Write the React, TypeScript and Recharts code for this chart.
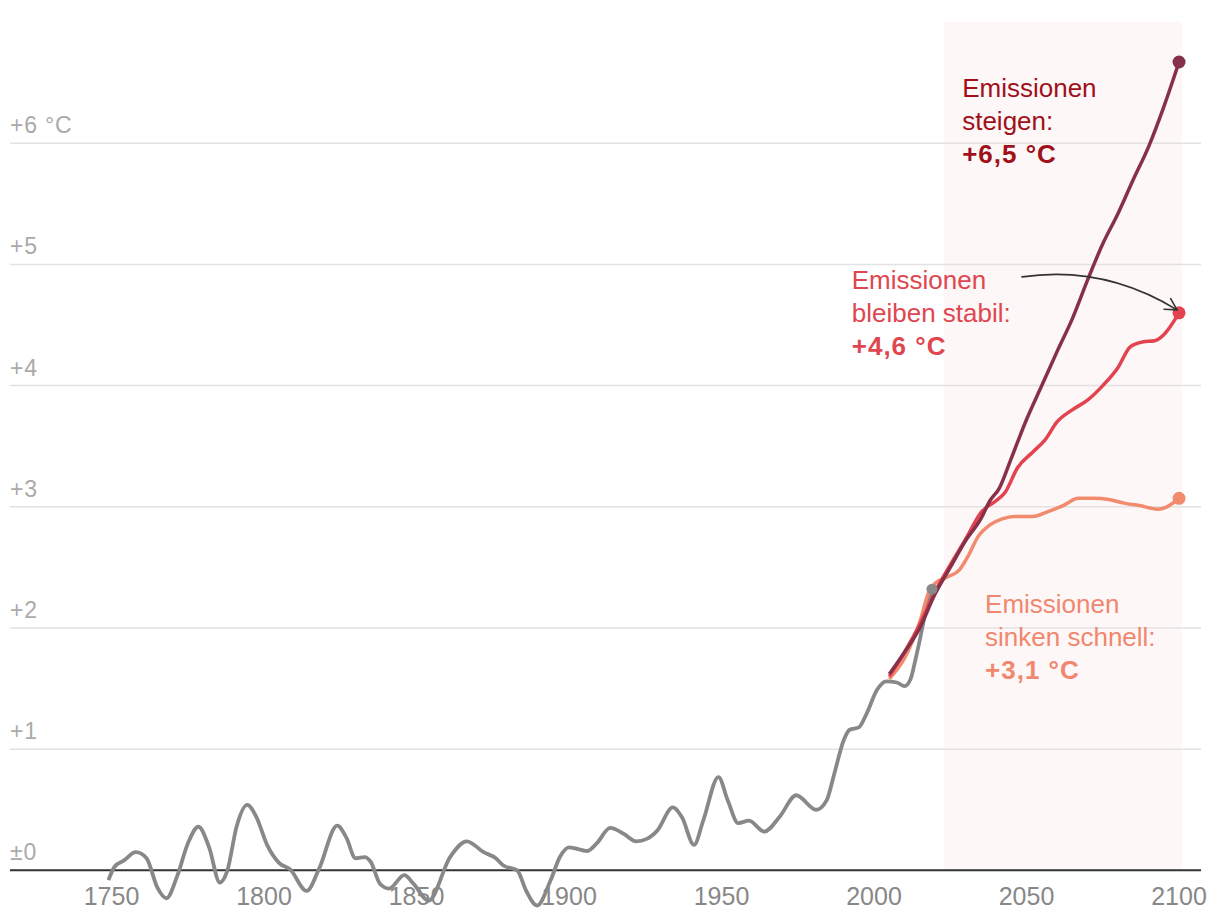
import React from 'react';
import {
  ComposedChart,
  Line,
  XAxis,
  YAxis,
  ReferenceLine,
  ReferenceArea,
  ReferenceDot,
} from 'recharts';

// ---- Data ----
const histYears = [
  1749, 1751, 1754, 1758, 1761.5, 1765, 1768, 1771.5, 1775, 1778.5, 1782, 1785.5, 1788, 1791, 1794.5,
  1797.5, 1801, 1805, 1808.5, 1814, 1818, 1824, 1827, 1830, 1833, 1835, 1838, 1841, 1846, 1849, 1854,
  1861, 1866.5, 1872, 1876, 1878.5, 1883, 1886, 1889.5, 1894, 1897, 1900, 1906, 1909, 1913.5, 1918,
  1922, 1925.5, 1929, 1934, 1937, 1941, 1944, 1949, 1952, 1955.5, 1959, 1964, 1969, 1974.5, 1981,
  1984.5, 1987, 1990, 1992, 1995, 1997.5, 2001, 2004, 2007.5, 2010, 2012, 2013.5, 2015, 2017.5, 2019,
];
const histValues = [
  -0.08, 0.03, 0.08, 0.15, 0.1, -0.14, -0.23, -0.05, 0.22, 0.36, 0.19, -0.1, 0, 0.36, 0.54,
  0.44, 0.21, 0.06, 0.01, -0.17, 0.01, 0.37, 0.27, 0.1, 0.11, 0.07, -0.11, -0.15, -0.04, -0.11, -0.25,
  0.11, 0.24, 0.15, 0.1, 0.04, 0, -0.17, -0.29, -0.08, 0.11, 0.19, 0.16, 0.22, 0.35, 0.3,
  0.24, 0.26, 0.33, 0.52, 0.44, 0.21, 0.41, 0.77, 0.58, 0.39, 0.41, 0.32, 0.44, 0.62, 0.5,
  0.58, 0.8, 1.07, 1.16, 1.18, 1.29, 1.49, 1.56, 1.55, 1.52, 1.58, 1.73, 1.9, 2.2, 2.32,
];

const riseYears = [2005, 2010, 2015, 2020, 2025, 2030, 2035, 2038, 2041, 2045, 2050, 2055, 2060, 2065, 2070, 2075, 2080, 2085, 2090, 2095, 2100];
const riseValues = [1.62, 1.8, 2.0, 2.28, 2.5, 2.72, 2.9, 3.05, 3.15, 3.4, 3.72, 4.0, 4.28, 4.55, 4.87, 5.17, 5.42, 5.7, 5.97, 6.3, 6.67];

const stableYears = [2005, 2010, 2015, 2020, 2025, 2030, 2035, 2040, 2043, 2047, 2052, 2056, 2060, 2065, 2070, 2075, 2080, 2084, 2088, 2092, 2095, 2100];
const stableValues = [1.6, 1.8, 2.03, 2.3, 2.52, 2.73, 2.95, 3.05, 3.12, 3.32, 3.45, 3.55, 3.7, 3.8, 3.88, 4.0, 4.15, 4.32, 4.36, 4.37, 4.42, 4.6];

const fallYears = [2005, 2010, 2015, 2018, 2020, 2024, 2028, 2031, 2034, 2038, 2042, 2046, 2052, 2057, 2062, 2067, 2072, 2077, 2082, 2087, 2093, 2096, 2100];
const fallValues = [1.58, 1.75, 2.05, 2.3, 2.37, 2.42, 2.48, 2.6, 2.75, 2.85, 2.9, 2.92, 2.92, 2.96, 3.01, 3.07, 3.07, 3.06, 3.03, 3.01, 2.98, 3.0, 3.07];

const xTicks = [1750, 1800, 1850, 1900, 1950, 2000, 2050, 2100];
const yTicks = [0, 1, 2, 3, 4, 5, 6];
const yTickLabels = ['±0', '+1', '+2', '+3', '+4', '+5', '+6 °C'];

const xDomain = [1716.72, 2107.2];
const yDomain = [-0.327, 7];

const projectionStart = 2023;
const projectionEnd = 2101;

const riseNote = ['Emissionen', 'steigen:', '+6,5 °C'];
const stableNote = ['Emissionen', 'bleiben stabil:', '+4,6 °C'];
const fallNote = ['Emissionen', 'sinken schnell:', '+3,1 °C'];
const riseNoteAt = { year: 2028.9, value: 6.38 };
const stableNoteAt = { year: 1992.7, value: 4.8 };
const fallNoteAt = { year: 2036.4, value: 2.12 };

const toRows = (years: number[], values: number[]) => years.map((y, i) => ({ year: y, v: values[i] }));
const histData = toRows(histYears, histValues);
const riseData = toRows(riseYears, riseValues);
const stableData = toRows(stableYears, stableValues);
const fallData = toRows(fallYears, fallValues);

// ---- Style ----
const FONT = '"Liberation Sans", Arial, sans-serif';
const GRAY = '#888888';
const RISE = '#873049';
const STABLE = '#e3434e';
const FALL = '#f28b6e';
const RISE_TEXT = '#a0101a';
const STABLE_TEXT = '#e0464f';
const FALL_TEXT = '#f0876e';

const last = <T,>(a: T[]) => a[a.length - 1];

const makeXLabel = (text: string) => (p: any) => (
  <text x={p.cx} y={p.cy + 35} textAnchor="middle" fill="#888" fontSize={25} fontFamily={FONT}>
    {text}
  </text>
);

const makeYLabel = (text: string) => (p: any) => (
  <text x={p.cx} y={p.cy - 10} textAnchor="start" fill="#aaa" fontSize={23} letterSpacing={0.8} fontFamily={FONT}>
    {text}
  </text>
);

const makeNote = (lines: string[], color: string) => (p: any) => (
  <text x={p.cx} y={p.cy} fill={color} fontSize={26} fontFamily={FONT}>
    <tspan x={p.cx} dy={0}>{lines[0]}</tspan>
    <tspan x={p.cx} dy={33}>{lines[1]}</tspan>
    <tspan x={p.cx} dy={33} fontWeight="bold" letterSpacing={1}>{lines[2]}</tspan>
  </text>
);

const Arrow = (p: any) => {
  const { cx, cy } = p;
  const sx = cx - 157, sy = cy - 36;
  const qx = cx - 75, qy = cy - 48;
  const ex = cx - 2, ey = cy - 3;
  const ang = Math.atan2(ey - qy, ex - qx);
  const len = 13;
  const a1 = ang + Math.PI - 0.5;
  const a2 = ang + Math.PI + 0.5;
  return (
    <g fill="none" stroke="#333" strokeWidth={1.6} strokeLinecap="round" strokeLinejoin="round">
      <path d={`M${sx},${sy} Q${qx},${qy} ${ex},${ey}`} />
      <path
        d={`M${ex + len * Math.cos(a1)},${ey + len * Math.sin(a1)} L${ex},${ey} L${ex + len * Math.cos(a2)},${ey + len * Math.sin(a2)}`}
      />
    </g>
  );
};

export default function App() {
  return (
    <ComposedChart
      width={1204}
      height={902}
      margin={{ top: 14, right: 11, left: 2, bottom: 0 }}
      style={{ fontFamily: FONT }}
    >
      <XAxis type="number" dataKey="year" domain={xDomain} allowDataOverflow hide />
      <YAxis type="number" domain={yDomain} allowDataOverflow hide />
      <ReferenceArea
        x1={projectionStart}
        x2={projectionEnd}
        y1={0}
        y2={7}
        fill="#fbe4e4"
        fillOpacity={0.3}
        stroke="none"
      />
      {yTicks.map((t) =>
        t === 0 ? null : <ReferenceLine key={`g${t}`} y={t} stroke="#e2e2e2" strokeWidth={1.5} />
      )}
      <ReferenceLine y={0} stroke="#333" strokeWidth={2} />
      {yTicks.map((t, i) => (
        <ReferenceDot key={`yl${t}`} x={xDomain[0]} y={t} r={0} shape={makeYLabel(yTickLabels[i])} />
      ))}
      {xTicks.map((t) => (
        <ReferenceDot key={`xl${t}`} x={t} y={0} r={0} shape={makeXLabel(String(t))} />
      ))}
      <Line data={histData} dataKey="v" type="monotone" stroke={GRAY} strokeWidth={3.8} dot={false} isAnimationActive={false} />
      <Line data={fallData} dataKey="v" type="monotone" stroke={FALL} strokeWidth={3.5} dot={false} isAnimationActive={false} />
      <Line data={stableData} dataKey="v" type="monotone" stroke={STABLE} strokeWidth={3.5} dot={false} isAnimationActive={false} />
      <Line data={riseData} dataKey="v" type="monotone" stroke={RISE} strokeWidth={3.5} dot={false} isAnimationActive={false} />
      <ReferenceDot x={last(histYears)} y={last(histValues)} r={5.5} fill={GRAY} stroke="none" />
      <ReferenceDot x={last(fallYears)} y={last(fallValues)} r={6.5} fill={FALL} stroke="none" />
      <ReferenceDot x={last(stableYears)} y={last(stableValues)} r={6.5} fill={STABLE} stroke="none" />
      <ReferenceDot x={last(riseYears)} y={last(riseValues)} r={6.5} fill={RISE} stroke="none" />
      <ReferenceDot x={last(stableYears)} y={last(stableValues)} r={0} shape={Arrow} />
      <ReferenceDot x={riseNoteAt.year} y={riseNoteAt.value} r={0} shape={makeNote(riseNote, RISE_TEXT)} />
      <ReferenceDot x={stableNoteAt.year} y={stableNoteAt.value} r={0} shape={makeNote(stableNote, STABLE_TEXT)} />
      <ReferenceDot x={fallNoteAt.year} y={fallNoteAt.value} r={0} shape={makeNote(fallNote, FALL_TEXT)} />
    </ComposedChart>
  );
}
